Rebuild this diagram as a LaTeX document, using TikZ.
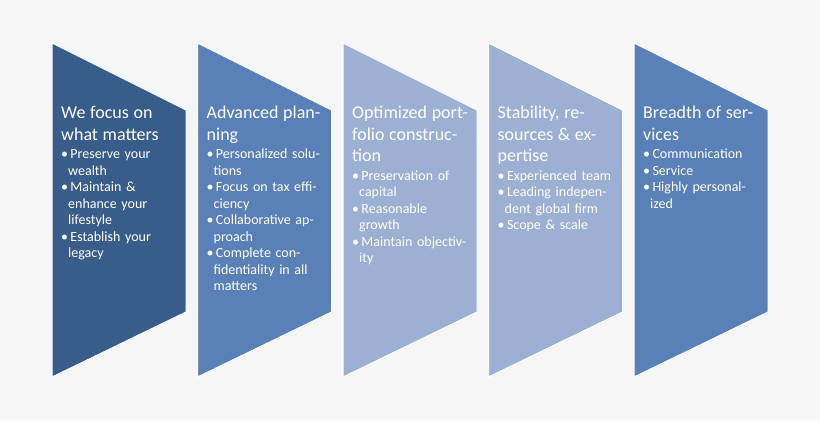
\documentclass[tikz,border=0pt]{standalone}
\usepackage{fontspec}
\setmainfont{Carlito}
\usetikzlibrary{positioning}
\definecolor{bgray}{HTML}{F6F6F6}
\definecolor{cdark}{HTML}{385D8A}
\definecolor{cmid}{HTML}{5A80B8}
\definecolor{clight}{HTML}{9BB0D2}
\newcommand{\bul}[1]{{\hangindent=7pt\hangafter=1\noindent\textbullet\,#1\par}}
\newcommand{\heading}[1]{{\fontsize{18}{21.5}\selectfont #1\par}\vspace{2pt}}

\begin{document}
\begin{tikzpicture}[x=1pt,y=-1pt,
  chevron/.style={draw=white,line width=1pt},
  chtext/.style={anchor=north west,inner sep=0pt,text width=118pt,align=left,text=white,
    font=\fontsize{14}{16.5}\selectfont}]
\fill[bgray] (0,0) rectangle (820,421);
\useasboundingbox (0,0) rectangle (820,421);
% arrow shapes
\foreach \i/\col in {0/cdark,1/cmid,2/clight,3/clight,4/cmid}
  \filldraw[chevron,fill=\col] (52+145.5*\i,43) -- (186+145.5*\i,110) -- (186+145.5*\i,312)
    -- (52+145.5*\i,377) -- cycle;
% texts
\node[chtext] (focus) at (61,106) {\heading{We focus on what matters}
  \bul{Preserve your wealth}\bul{Maintain \& enhance your lifestyle}\bul{Establish your legacy}};
\node[chtext] (planning) at (206.5,106) {\heading{Advanced planning}
  \bul{Personalized solutions}\bul{Focus on tax efficiency}\bul{Collaborative approach}
  \bul{Complete confidentiality in all matters}};
\node[chtext] (portfolio) at (352,106) {\heading{Optimized portfolio construction}
  \bul{Preservation of capital}\bul{Reasonable growth}\bul{Maintain objectivity}};
\node[chtext] (stability) at (497.5,106) {\heading{Stability, resources \& expertise}
  \bul{Experienced team}\bul{Leading independent global firm}\bul{Scope \& scale}};
\node[chtext] (services) at (643,106) {\heading{Breadth of services}
  \bul{Communication}\bul{Service}\bul{Highly personalized}};
\end{tikzpicture}
\end{document}
